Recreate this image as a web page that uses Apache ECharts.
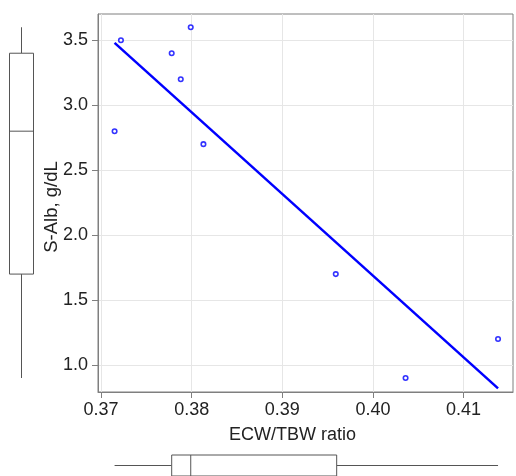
<!DOCTYPE html>
<html>
<head>
<meta charset="utf-8">
<style>html,body{margin:0;padding:0;background:#fff}#c{width:516px;height:476px}</style>
<script src="https://cdn.jsdelivr.net/npm/echarts@6/dist/echarts.min.js"></script>
</head>
<body>
<div id="c"></div>
<script>
// Data
const ecwRatio = [0.3722, 0.3715, 0.3799, 0.3778, 0.3788, 0.3813, 0.3959, 0.4036, 0.4138];
const sAlb     = [3.5,    2.8,    3.6,    3.4,    3.2,    2.7,    1.7,    0.9,    1.2];
const fitX = [0.3715, 0.4138];
const fitY = [3.48, 0.82];
// boxplot stats: [min, q1, median, q3, max]
const albBox = [0.9, 1.7, 2.8, 3.4, 3.6];
const ecwBox = [0.3715, 0.3778, 0.3799, 0.3960, 0.4138];
const xTicks = [0.37, 0.38, 0.39, 0.40, 0.41];
const yTicks = [1.0, 1.5, 2.0, 2.5, 3.0, 3.5];
const xRange = [0.36967, 0.41545];
const yRange = [0.7923, 3.702];

const FONT = 'Liberation Sans';
const gray = '#7f7f7f';
const boxColor = '#555555';
const txt = '#222222';

function renderVBox(params, api) {
  const cx = api.coord([0, api.value(1)])[0];
  const hw = api.size([1, 0])[0] / 2 - 0.5;
  const y = v => api.coord([0, v])[1];
  const vmin = api.value(1), q1 = api.value(2), med = api.value(3), q3 = api.value(4), vmax = api.value(5);
  const st = {stroke: boxColor, lineWidth: 1, fill: null};
  return {type: 'group', children: [
    {type: 'line', shape: {x1: cx, y1: y(vmax), x2: cx, y2: y(q3)}, style: st},
    {type: 'line', shape: {x1: cx, y1: y(q1), x2: cx, y2: y(vmin)}, style: st},
    {type: 'rect', shape: {x: cx - hw, y: y(q3), width: 2 * hw, height: y(q1) - y(q3)}, style: {stroke: boxColor, lineWidth: 1, fill: '#fff'}},
    {type: 'line', shape: {x1: cx - hw, y1: y(med), x2: cx + hw, y2: y(med)}, style: st}
  ]};
}
function renderHBox(params, api) {
  const cy = api.coord([api.value(0), 0])[1];
  const hh = api.size([0, 1])[1] / 2;
  const x = v => api.coord([v, 0])[0];
  const vmin = api.value(0), q1 = api.value(1), med = api.value(2), q3 = api.value(3), vmax = api.value(4);
  const st = {stroke: boxColor, lineWidth: 1, fill: null};
  return {type: 'group', children: [
    {type: 'line', shape: {x1: x(vmin), y1: cy, x2: x(q1), y2: cy}, style: st},
    {type: 'line', shape: {x1: x(q3), y1: cy, x2: x(vmax), y2: cy}, style: st},
    {type: 'rect', shape: {x: x(q1), y: cy - hh, width: x(q3) - x(q1), height: 2 * hh}, style: {stroke: boxColor, lineWidth: 1, fill: '#fff'}},
    {type: 'line', shape: {x1: x(med), y1: cy - hh, x2: x(med), y2: cy + hh}, style: st}
  ]};
}

const chart = echarts.init(document.getElementById('c'), null, {renderer: 'canvas'});
const scatterData = ecwRatio.map((x, i) => [x, sAlb[i]]);
const fitData = fitX.map((x, i) => [x, fitY[i]]);

chart.setOption({
  animation: false,
  backgroundColor: '#fff',
  textStyle: {fontFamily: FONT},
  grid: [
    {left: 98, top: 14, width: 415, height: 378, show: true, borderColor: gray, borderWidth: 1, containLabel: false},
    {left: 9, top: 14, width: 25, height: 378, containLabel: false},
    {left: 98, top: 455, width: 415, height: 24, containLabel: false}
  ],
  xAxis: [
    {gridIndex: 0, type: 'value', min: xRange[0], max: xRange[1],
     name: 'ECW/TBW ratio', nameLocation: 'middle', nameGap: 34, nameMoveOverlap: false,
     nameTextStyle: {fontSize: 18, color: txt, fontFamily: FONT, padding: [0, 26, 0, 0]},
     axisLine: {show: true, onZero: false, lineStyle: {color: gray, width: 1}},
     axisTick: {show: true, length: 6, lineStyle: {color: gray}, customValues: xTicks},
     axisLabel: {fontSize: 18, color: txt, margin: 9, fontFamily: FONT, customValues: xTicks,
                 formatter: v => v.toFixed(2)},
     splitLine: {show: true, lineStyle: {color: '#e6e6e6', width: 1}}},
    {gridIndex: 1, type: 'category', data: [''], show: false},
    {gridIndex: 2, type: 'value', min: xRange[0], max: xRange[1], show: false}
  ],
  yAxis: [
    {gridIndex: 0, type: 'value', min: yRange[0], max: yRange[1],
     name: 'S-Alb, g/dL', nameLocation: 'middle', nameGap: 37, nameMoveOverlap: false,
     nameTextStyle: {fontSize: 18.5, color: txt, fontFamily: FONT, padding: [0, 8, 0, 0]},
     axisLine: {show: true, onZero: false, lineStyle: {color: gray, width: 1}},
     axisTick: {show: true, length: 6, lineStyle: {color: gray}, customValues: yTicks},
     axisLabel: {fontSize: 18, color: txt, margin: 10, fontFamily: FONT, customValues: yTicks,
                 formatter: v => v.toFixed(1)},
     splitLine: {show: true, lineStyle: {color: '#e6e6e6', width: 1}}},
    {gridIndex: 1, type: 'value', min: yRange[0], max: yRange[1], show: false},
    {gridIndex: 2, type: 'category', data: [''], show: false}
  ],
  series: [
    {type: 'line', xAxisIndex: 0, yAxisIndex: 0, data: fitData, symbol: 'none',
     lineStyle: {color: '#0000ff', width: 2.5}, z: 3},
    {type: 'scatter', xAxisIndex: 0, yAxisIndex: 0, data: scatterData, symbol: 'circle', symbolSize: 4.5,
     itemStyle: {color: '#ffffff', borderColor: '#0000ff', borderWidth: 1.6}, z: 4},
    {type: 'custom', xAxisIndex: 1, yAxisIndex: 1, renderItem: renderVBox,
     data: [[0].concat(albBox)], encode: {x: 0, y: [1, 2, 3, 4, 5]}},
    {type: 'custom', xAxisIndex: 2, yAxisIndex: 2, renderItem: renderHBox,
     data: [ecwBox.concat([0])], encode: {x: [0, 1, 2, 3, 4], y: 5}}
  ]
});
</script>
</body>
</html>
